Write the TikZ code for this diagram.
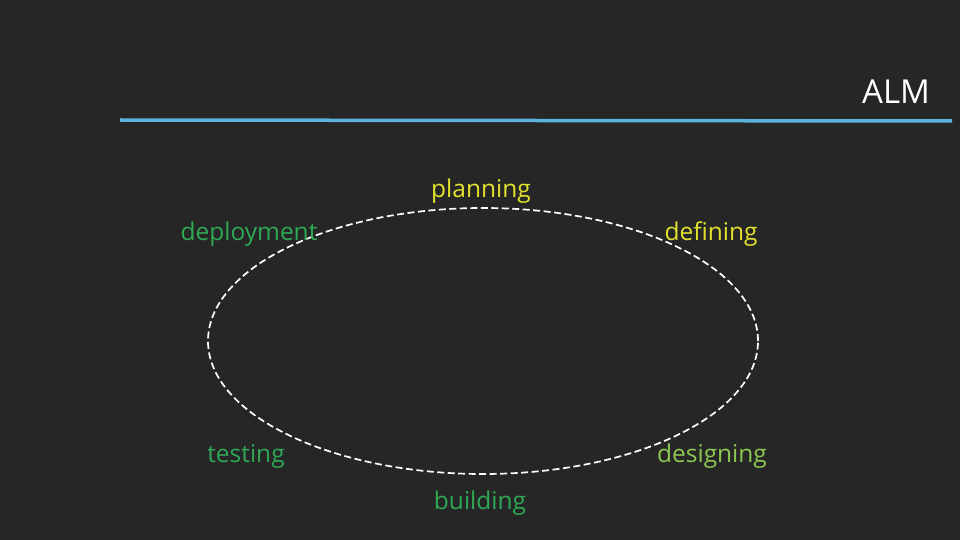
\documentclass[tikz,border=0pt]{standalone}
\usepackage{fontspec}
\setmainfont{Open Sans}
\usetikzlibrary{shapes.geometric}
\definecolor{board}{HTML}{262626}
\definecolor{ylw}{HTML}{E2E22E}
\definecolor{grn}{HTML}{2FA855}
\definecolor{lgrn}{HTML}{8CC852}
\definecolor{blu}{HTML}{5AB4DE}
\tikzset{
  lbl/.style={font=\fontsize{24.5}{28}\selectfont, inner sep=0pt, anchor=center},
}
\begin{document}
\begin{tikzpicture}[x=1pt,y=-1pt]
\fill[board] (0,0) rectangle (960,540);
\useasboundingbox (0,0) rectangle (960,540);
\node[font=\fontsize{33}{38}\selectfont, text=white, inner sep=0pt] (alm) at (896,92) {ALM};
\coordinate (l1) at (120,120);
\coordinate (l2) at (952,121);
\draw[blu, line width=3.5pt] (l1) -- (l2);
\node[draw=white, dash pattern=on 7pt off 3.5pt, line width=1.7pt, ellipse, minimum width=550, minimum height=266, inner sep=0pt] (cyc) at (483,341) {};
\node[lbl, text=ylw] (plan) at (481,191) {planning};
\node[lbl, text=grn] (dep) at (249,234) {deployment};
\node[lbl, text=ylw] (def) at (711,234) {defining};
\node[lbl, text=grn] (test) at (246,456) {testing};
\node[lbl, text=lgrn] (des) at (712,456) {designing};
\node[lbl, text=grn] (build) at (480,503) {building};
\end{tikzpicture}
\end{document}
